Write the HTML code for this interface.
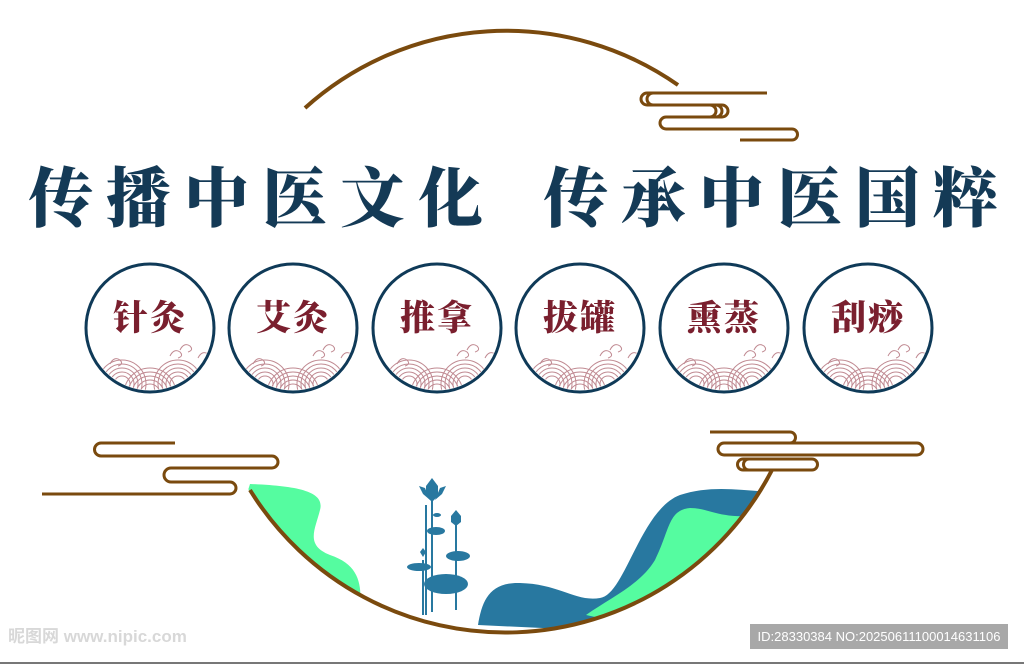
<!DOCTYPE html>
<html><head><meta charset="utf-8"><style>
body{margin:0;width:1024px;height:664px;overflow:hidden;background:#fff;font-family:"Liberation Serif","Noto Serif CJK SC",serif}
.t{position:absolute;top:153px;font-family:"Noto Serif CJK SC","Noto Sans CJK SC",serif;font-weight:900;font-size:65px;color:#143a56;letter-spacing:13px;line-height:80px;white-space:nowrap}
.c{position:absolute;top:291px;width:128px;text-align:center;font-family:"Noto Serif CJK SC",serif;font-weight:900;font-size:35px;color:#7a1f2e;letter-spacing:2px}
</style></head><body>
<svg width="1024" height="664" style="position:absolute;left:0;top:0">
<defs>
<clipPath id="bc"><circle cx="505" cy="334" r="300"/></clipPath>
<g id="wave" fill="none" stroke="#c08a92" stroke-width="1">
<circle cx="-28" cy="56" r="24"/><circle cx="-28" cy="56" r="20"/><circle cx="-28" cy="56" r="16"/><circle cx="-28" cy="56" r="12"/><circle cx="-28" cy="56" r="8"/>
<circle cx="28" cy="56" r="24"/><circle cx="28" cy="56" r="20"/><circle cx="28" cy="56" r="16"/><circle cx="28" cy="56" r="12"/><circle cx="28" cy="56" r="8"/>
<circle cx="0" cy="66" r="26"/><circle cx="0" cy="66" r="22"/><circle cx="0" cy="66" r="18"/><circle cx="0" cy="66" r="14"/><circle cx="0" cy="66" r="10"/>
<path d="M-40,36 q4,-8 10,-4 q4,4 -2,6 M20,28 q4,-8 10,-4 q4,4 -2,6 M30,22 q4,-8 10,-4 q4,4 -2,6 M48,30 q4,-8 10,-4 q4,4 -2,6"/>
</g>
<clipPath id="sc"><circle cx="0" cy="0" r="62"/></clipPath>
</defs>
<g clip-path="url(#bc)">
<path d="M250,484 C300,486 325,492 320,510 C315,530 305,545 330,555 C360,565 362,585 360,610 L200,640 Z" fill="#55fca0"/>
<path d="M478,625 C482,600 490,582 520,583 C560,584 575,602 600,598 C625,595 640,510 680,495 C710,485 740,490 770,492 L800,640 Z" fill="#2878a0"/>
<path d="M586,615 C610,598 640,585 655,560 C670,530 668,510 690,508 C710,508 720,520 760,515 L800,520 L700,640 Z" fill="#55fca0"/>
</g>
<g fill="none" stroke="#7a4a0e" stroke-width="4">
<path d="M305,108 A300,300 0 0 1 678,85"/>
<path d="M250,490 A300,300 0 0 0 772,470"/>
</g>
<g fill="none" stroke="#7a4a0e" stroke-width="3">
<path d="M767,93 H647 a6,6 0 0 0 0,12 H722 a6,6 0 0 1 0,12 H666 a6,6 0 0 0 0,12 H792 a5.5,5.5 0 0 1 0,11 H740"/>
<path d="M653,93 a6,6 0 0 0 0,12 M710,105 a6,6 0 0 1 0,12 M716,105 a6,6 0 0 1 0,12"/>
<path d="M175,443 H101 a6.5,6.5 0 0 0 0,13 H272 a6,6 0 0 1 0,12 H171 a7,7 0 0 0 0,14 H230 a6,6 0 0 1 0,12 H42"/>
<path d="M710,432 H790 a5.5,5.5 0 0 1 0,11 H724 a6,6 0 0 0 0,12 H917 a6,6 0 0 0 0,-12 H790"/>
<path d="M743,459 a5.5,5.5 0 0 0 0,11 H812 a5.5,5.5 0 0 0 0,-11 Z M749,459 a5.5,5.5 0 0 0 0,11"/>
</g>
<g fill="#2878a0">
<rect x="425" y="505" width="2" height="110"/><rect x="431" y="500" width="2" height="112"/><rect x="422" y="560" width="2" height="55"/>
<path d="M432,478 l-6,8 l0,10 l6,6 l6,-6 l0,-10z"/><path d="M425,488 l-6,-2 l4,8 l7,6z"/><path d="M440,488 l6,-2 l-4,8 l-7,6z"/>
<path d="M456,510 l-5,6 l0,6 l5,4 l5,-4 l0,-6z"/><rect x="455" y="520" width="2" height="90"/>
<path d="M423,548 l-3,4 l3,5 l3,-5z"/>
<ellipse cx="436" cy="531" rx="9" ry="4"/><ellipse cx="458" cy="556" rx="12" ry="5"/><ellipse cx="419" cy="567" rx="12" ry="4"/><ellipse cx="446" cy="584" rx="22" ry="10"/><ellipse cx="437" cy="515" rx="4" ry="2"/>
</g>
<g stroke="#0f3a58" stroke-width="3" fill="none">
<circle cx="150" cy="328" r="64"/><circle cx="293" cy="328" r="64"/><circle cx="437" cy="328" r="64"/><circle cx="580" cy="328" r="64"/><circle cx="724" cy="328" r="64"/><circle cx="868" cy="328" r="64"/>
</g>
<g transform="translate(150,328)" clip-path="url(#sc)"><use href="#wave"/></g>
<g transform="translate(293,328)" clip-path="url(#sc)"><use href="#wave"/></g>
<g transform="translate(437,328)" clip-path="url(#sc)"><use href="#wave"/></g>
<g transform="translate(580,328)" clip-path="url(#sc)"><use href="#wave"/></g>
<g transform="translate(724,328)" clip-path="url(#sc)"><use href="#wave"/></g>
<g transform="translate(868,328)" clip-path="url(#sc)"><use href="#wave"/></g>
<rect x="750" y="624" width="258" height="25" fill="#a8a8a8"/>
<text x="879" y="641" text-anchor="middle" font-family="Liberation Sans,sans-serif" font-size="13" fill="#fff">ID:28330384 NO:20250611100014631106</text>
<text x="8" y="642" font-family="Liberation Sans,Noto Sans CJK SC,sans-serif" font-size="17" font-weight="bold" fill="#d8d8d8">昵图网 www.nipic.com</text>
<rect x="0" y="662" width="1024" height="2" fill="#777"/>
</svg>
<div class="t" style="left:28px">传播中医文化</div>
<div class="t" style="left:543px">传承中医国粹</div>
<div class="c" style="left:86px">针灸</div>
<div class="c" style="left:229px">艾灸</div>
<div class="c" style="left:373px">推拿</div>
<div class="c" style="left:516px">拔罐</div>
<div class="c" style="left:660px">熏蒸</div>
<div class="c" style="left:804px">刮痧</div>
</body></html>
